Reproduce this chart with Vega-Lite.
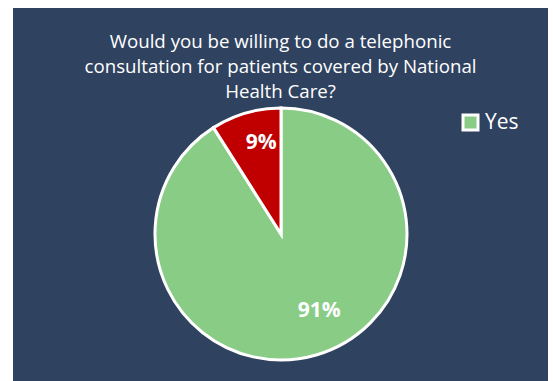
{
  "$schema": "https://vega.github.io/schema/vega-lite/v6.json",
  "width": 553,
  "height": 381,
  "autosize": {"type": "fit", "contains": "padding"},
  "padding": {"top": 8, "left": 13, "right": 5, "bottom": 0},
  "background": "white",
  "view": {"fill": "#2F4260", "stroke": null},
  "title": {
    "text": ["Would you be willing to do a telephonic", "consultation for patients covered by National", "Health Care?"],
    "color": "white",
    "font": "Open Sans",
    "fontSize": 18.7,
    "fontWeight": "normal",
    "lineHeight": 25,
    "anchor": "middle",
    "offset": -94
  },
  "data": {
    "values": [
      {"answer": "Yes", "value": 91, "label": "91%"},
      {"answer": "No", "value": 9, "label": "9%"}
    ]
  },
  "encoding": {
    "theta": {"field": "value", "type": "quantitative", "stack": true},
    "order": {"field": "value", "type": "quantitative", "sort": "descending"}
  },
  "layer": [
    {
      "mark": {"type": "arc", "outerRadius": 126, "stroke": "white", "strokeWidth": 3, "yOffset": 39.5, "xOffset": 0.5},
      "encoding": {
        "color": {
          "field": "answer",
          "type": "nominal",
          "scale": {"domain": ["Yes", "No"], "range": ["#88CC86", "#C00000"]},
          "legend": {
            "values": ["Yes"],
            "title": null,
            "orient": "none",
            "legendX": 447,
            "legendY": 104,
            "symbolType": "square",
            "symbolSize": 225,
            "symbolStrokeColor": "white",
            "symbolStrokeWidth": 3,
            "symbolOpacity": 1,
            "labelFont": "Open Sans",
            "labelFontSize": 21,
            "labelColor": "white",
            "labelOffset": 4,
            "padding": 0
          }
        }
      }
    },
    {
      "mark": {"type": "text", "radius": 94, "dx": 7, "dy": 39, "font": "Open Sans", "fontSize": 21, "fontWeight": "bold", "color": "white"},
      "encoding": {
        "text": {"condition": {"test": "datum.answer == 'No'", "field": "label"}, "value": ""}
      }
    },
    {
      "mark": {"type": "text", "radius": 85, "dx": 15, "dy": 35, "font": "Open Sans", "fontSize": 21, "fontWeight": "bold", "color": "white"},
      "encoding": {
        "text": {"condition": {"test": "datum.answer == 'Yes'", "field": "label"}, "value": ""}
      }
    }
  ]
}
